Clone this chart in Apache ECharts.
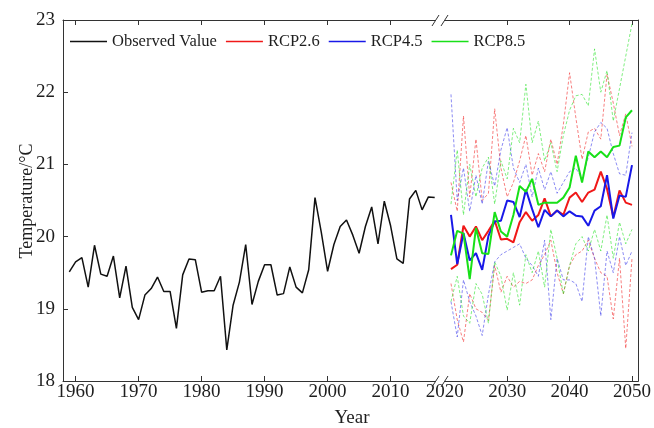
<!DOCTYPE html>
<html>
<head>
<meta charset="utf-8">
<script src="https://cdn.jsdelivr.net/npm/echarts@6/dist/echarts.min.js"></script>
<style>
  html, body { margin: 0; padding: 0; background: #fff; }
  #chart { width: 654px; height: 428px; }
</style>
</head>
<body>
<div id="chart"></div>
<script>
// Observed annual mean temperature, 1959-2017 (°C)
const obsStartYear = 1959;
const observed = [
  19.51, 19.65, 19.71, 19.30, 19.88, 19.48, 19.45, 19.73, 19.15, 19.59,
  19.02, 18.85, 19.19, 19.28, 19.44, 19.24, 19.24, 18.73, 19.47, 19.69,
  19.68, 19.23, 19.25, 19.25, 19.45, 18.43, 19.05, 19.37, 19.89, 19.06,
  19.38, 19.61, 19.61, 19.19, 19.21, 19.58, 19.30, 19.22, 19.54, 20.54,
  20.06, 19.52, 19.89, 20.14, 20.23, 20.02, 19.77, 20.14, 20.41, 19.90,
  20.49, 20.15, 19.69, 19.63, 20.52, 20.64, 20.37, 20.55, 20.54
];

// Projections, 2021-2050 (°C): ensemble mean plus upper / lower members
const projStartYear = 2021;
const rcp26 = [
  19.55, 19.61, 20.15, 20.00, 20.14, 19.95, 20.08, 20.22, 19.96, 19.97,
  19.92, 20.20, 20.34, 20.22, 20.30, 20.53, 20.28, 20.36, 20.30, 20.54,
  20.61, 20.48, 20.61, 20.65, 20.90, 20.66, 20.27, 20.64, 20.47, 20.44
];
const rcp45 = [
  20.30, 19.62, 20.05, 19.67, 19.77, 19.54, 20.01, 20.21, 20.22, 20.50,
  20.48, 20.27, 20.65, 20.38, 20.13, 20.37, 20.28, 20.36, 20.28, 20.35,
  20.29, 20.28, 20.15, 20.36, 20.42, 20.85, 20.25, 20.57, 20.55, 20.99
];
const rcp85 = [
  19.74, 20.08, 20.04, 19.41, 20.12, 19.77, 19.76, 20.34, 20.07, 20.00,
  20.30, 20.70, 20.62, 20.80, 20.44, 20.47, 20.47, 20.47, 20.54, 20.68,
  21.12, 20.75, 21.18, 21.10, 21.18, 21.10, 21.24, 21.26, 21.65, 21.75
];
const rcp26Upper = [
  20.75, 20.35, 21.67, 20.55, 21.35, 20.50, 20.60, 21.77, 20.95, 20.55,
  20.75, 21.05, 21.40, 20.85, 21.15, 20.90, 21.35, 21.00, 21.55, 22.27,
  21.65, 21.07, 21.45, 21.50, 21.35, 22.25, 21.85, 21.40, 21.70, 21.25
];
const rcp26Lower = [
  19.35, 18.85, 18.54, 19.21, 19.00, 18.95, 18.84, 19.60, 19.23, 19.45,
  19.30, 19.38, 19.35, 19.40, 19.60, 19.75, 19.95, 19.50, 19.21, 19.60,
  19.75, 19.80, 19.95, 19.70, 19.50, 19.45, 18.86, 19.70, 18.45, 19.70
];
const rcp45Upper = [
  21.97, 20.50, 20.95, 20.35, 20.85, 20.45, 21.05, 20.70, 21.20, 21.51,
  20.95, 20.75, 21.00, 20.55, 20.95, 20.65, 20.90, 20.60, 20.75, 20.90,
  20.95, 20.80, 21.10, 21.45, 21.58, 21.50, 21.15, 20.87, 20.85, 21.44
];
const rcp45Lower = [
  19.10, 18.61, 19.40, 19.10, 18.90, 18.63, 19.20, 19.65, 19.75, 19.80,
  19.85, 19.90, 19.70, 19.60, 19.45, 19.95, 18.85, 19.70, 19.40, 19.40,
  19.35, 19.10, 20.00, 19.70, 18.90, 19.80, 19.50, 20.00, 19.60, 19.80
];
const rcp85Upper = [
  20.45, 21.20, 20.30, 21.00, 20.55, 20.95, 21.10, 20.45, 21.05, 20.80,
  21.50, 21.30, 22.11, 21.30, 21.60, 21.05, 21.30, 20.90, 21.40, 21.75,
  21.95, 21.97, 21.81, 22.60, 22.00, 22.30, 21.60, 22.05, 22.50, 22.95
];
const rcp85Lower = [
  19.10, 19.45, 18.90, 18.80, 19.35, 19.20, 18.80, 19.65, 19.45, 18.98,
  19.50, 19.05, 19.75, 19.50, 19.80, 19.30, 20.10, 19.70, 19.20, 19.60,
  19.90, 20.00, 19.80, 20.10, 19.80, 20.30, 19.70, 20.20, 19.90, 20.10
];

// Axis ticks and labels
const histTicks = [1960, 1970, 1980, 1990, 2000, 2010];
const projLabels = [2020, 2030, 2040, 2050];
const projTicks = [2030, 2040, 2050];

const FONT = '"Liberation Serif", "Times New Roman", serif';
const TXT = '#1e1e1e';
const AX = '#333333';
const RED = '#f01818', BLUE = '#1818e8', GREEN = '#18e018';

// Plot box (px) and the broken x axis split
const L = 63, SPLIT = 441, R = 640, TOP = 20, BOTTOM = 381;

const toPairs = (start, vals) => vals.map((v, i) => [start + i, v]);

function xAxisFor(grid, pos, min, max, ticks, labels) {
  return {
    type: 'value', gridIndex: grid, position: pos, min: min, max: max,
    axisLine: { show: true, onZero: false, lineStyle: { color: AX, width: 1 } },
    axisTick: { show: true, inside: true, length: 5, customValues: ticks, lineStyle: { color: AX } },
    axisLabel: labels ? {
      show: true, customValues: labels, margin: 2, color: TXT,
      fontFamily: FONT, fontSize: 19, formatter: v => String(v)
    } : { show: false },
    splitLine: { show: false }
  };
}

function dashed(name, vals, color) {
  return {
    name: name, type: 'line', xAxisIndex: 2, yAxisIndex: 1,
    data: toPairs(projStartYear, vals), symbol: 'none', z: 2,
    lineStyle: { color: color, width: 1, type: [3, 2] }, itemStyle: { color: color },
    silent: true
  };
}

function solid(name, vals, color) {
  return {
    name: name, type: 'line', xAxisIndex: 2, yAxisIndex: 1,
    data: toPairs(projStartYear, vals), symbol: 'none', z: 5,
    lineStyle: { color: color, width: 2 }, itemStyle: { color: color }
  };
}

const chart = echarts.init(document.getElementById('chart'), null, { renderer: 'canvas' });

chart.setOption({
  animation: false,
  backgroundColor: '#ffffff',
  textStyle: { fontFamily: FONT },
  grid: [
    { left: L, top: TOP, width: SPLIT - L, height: BOTTOM - TOP },
    { left: SPLIT, top: TOP, width: R - SPLIT, height: BOTTOM - TOP }
  ],
  xAxis: [
    xAxisFor(0, 'bottom', 1958, 2018, histTicks, histTicks),
    xAxisFor(0, 'top', 1958, 2018, histTicks, null),
    xAxisFor(1, 'bottom', 2019.4, 2051, projTicks, projLabels),
    xAxisFor(1, 'top', 2019.4, 2051, projTicks, null)
  ],
  yAxis: [
    {
      type: 'value', gridIndex: 0, position: 'left', min: 18, max: 23, interval: 1,
      axisLine: { show: true, lineStyle: { color: AX, width: 1 } },
      axisTick: { show: true, inside: true, length: 5, lineStyle: { color: AX } },
      axisLabel: { color: TXT, fontFamily: FONT, fontSize: 19, margin: 8 },
      splitLine: { show: false }
    },
    {
      type: 'value', gridIndex: 1, position: 'right', min: 18, max: 23, interval: 1,
      axisLine: { show: true, lineStyle: { color: AX, width: 1 } },
      axisTick: { show: false }, axisLabel: { show: false },
      splitLine: { show: false }
    }
  ],
  legend: {
    data: ['Observed Value', 'RCP2.6', 'RCP4.5', 'RCP8.5'],
    icon: 'rect', padding: 0,
    left: 70, top: 33, itemWidth: 37, itemHeight: 1.6, itemGap: 9,
    textStyle: { color: TXT, fontFamily: FONT, fontSize: 16.5 }
  },
  series: [
    dashed('RCP2.6 upper', rcp26Upper, 'rgba(240,24,24,0.55)'),
    dashed('RCP2.6 lower', rcp26Lower, 'rgba(240,24,24,0.55)'),
    dashed('RCP4.5 upper', rcp45Upper, 'rgba(24,24,232,0.5)'),
    dashed('RCP4.5 lower', rcp45Lower, 'rgba(24,24,232,0.5)'),
    dashed('RCP8.5 upper', rcp85Upper, 'rgba(24,224,24,0.55)'),
    dashed('RCP8.5 lower', rcp85Lower, 'rgba(24,224,24,0.55)'),
    {
      name: 'Observed Value', type: 'line', xAxisIndex: 0, yAxisIndex: 0,
      data: toPairs(obsStartYear, observed), symbol: 'none', z: 5,
      lineStyle: { color: '#111', width: 1.5 }, itemStyle: { color: '#111' }
    },
    solid('RCP2.6', rcp26, RED),
    solid('RCP4.5', rcp45, BLUE),
    solid('RCP8.5', rcp85, GREEN)
  ],
  graphic: [
    // axis titles
    {
      type: 'text', x: 352, y: 418, silent: true,
      style: { text: 'Year', align: 'center', verticalAlign: 'middle', fontSize: 19, fontFamily: FONT, fill: TXT }
    },
    {
      type: 'text', x: 27, y: 201, rotation: Math.PI / 2, silent: true,
      style: { text: 'Temperature/°C', align: 'center', verticalAlign: 'middle', fontSize: 18, fontFamily: FONT, fill: TXT }
    },
    // axis break marks on the bottom and top edges
    { type: 'rect', shape: { x: 435, y: BOTTOM - 2, width: 9, height: 4 }, style: { fill: '#fff' }, z: 100, silent: true },
    { type: 'rect', shape: { x: 435, y: TOP - 2, width: 9, height: 4 }, style: { fill: '#fff' }, z: 100, silent: true },
    { type: 'line', shape: { x1: 432, y1: BOTTOM + 6, x2: 439, y2: BOTTOM - 5 }, style: { stroke: AX, lineWidth: 1 }, z: 101, silent: true },
    { type: 'line', shape: { x1: 441, y1: BOTTOM + 6, x2: 448, y2: BOTTOM - 5 }, style: { stroke: AX, lineWidth: 1 }, z: 101, silent: true },
    { type: 'line', shape: { x1: 432, y1: TOP + 6, x2: 439, y2: TOP - 5 }, style: { stroke: AX, lineWidth: 1 }, z: 101, silent: true },
    { type: 'line', shape: { x1: 441, y1: TOP + 6, x2: 448, y2: TOP - 5 }, style: { stroke: AX, lineWidth: 1 }, z: 101, silent: true }
  ]
});
</script>
</body>
</html>
